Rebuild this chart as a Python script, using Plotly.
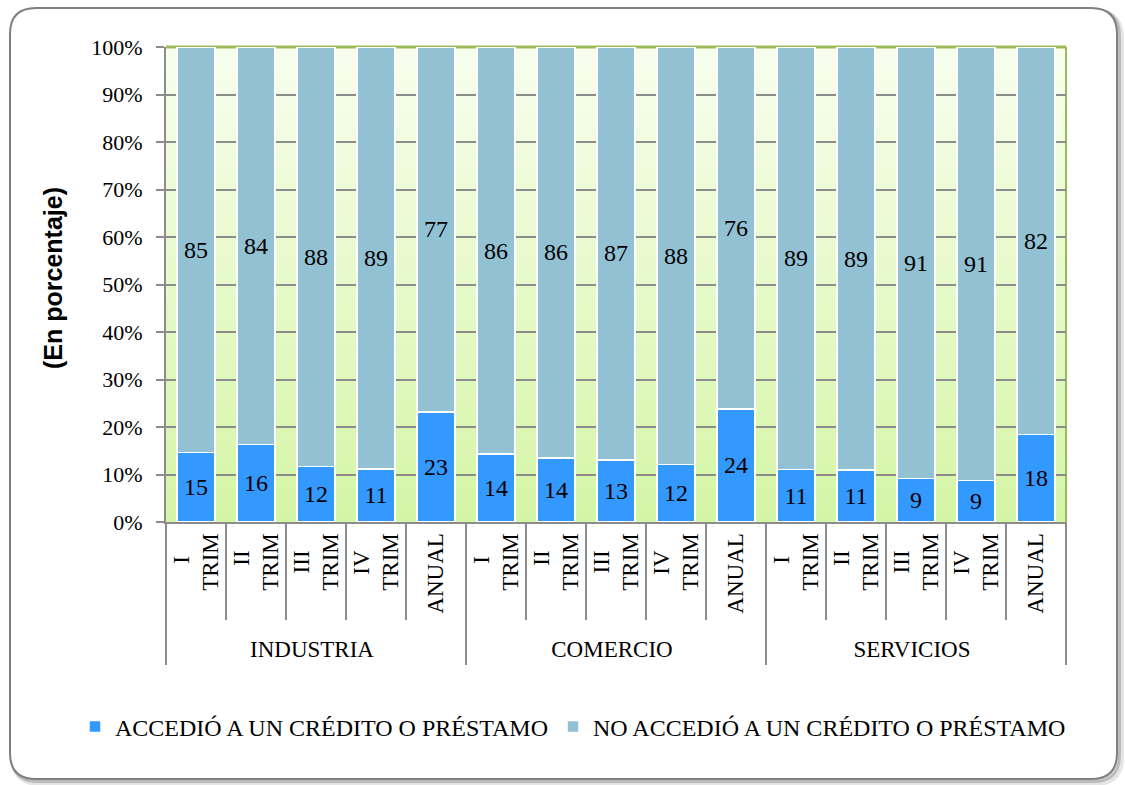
import plotly.graph_objects as go

groups = ["INDUSTRIA"] * 5 + ["COMERCIO"] * 5 + ["SERVICIOS"] * 5
periods = ["I&nbsp;&nbsp;&nbsp;&nbsp;<br>TRIM", "II&nbsp;&nbsp;&nbsp;<br>TRIM",
           "III&nbsp;&nbsp;&nbsp;<br>TRIM", "IV&nbsp;&nbsp;&nbsp;<br>TRIM", "ANUAL"] * 3
accedio = [14.6, 16.3, 11.7, 11.2, 23.2, 14.3, 13.5, 13.1, 12.1, 23.8, 11.1, 10.9, 9.2, 8.7, 18.4]
no_accedio = [100 - v for v in accedio]
acc_labels = [15, 16, 12, 11, 23, 14, 14, 13, 12, 24, 11, 11, 9, 9, 18]
no_labels = [85, 84, 88, 89, 77, 86, 86, 87, 88, 76, 89, 89, 91, 91, 82]
series_names = ["ACCEDIÓ A UN CRÉDITO O PRÉSTAMO", "NO ACCEDIÓ A UN CRÉDITO O PRÉSTAMO"]
series_colors = ["#3399FF", "#92C1D4"]

W, H = 1125, 785
L, R, T, B = 166, 1066, 47, 522
PW, PH = R - L, B - T
SERIF = "Liberation Serif, Times New Roman, serif"


def px(x):
    return (x - L) / PW


def py(y):
    return (B - y) / PH


fig = go.Figure()
fig.add_trace(go.Bar(
    x=[groups, periods], y=accedio, name=series_names[0],
    marker=dict(color=series_colors[0], line=dict(color="white", width=1.5)),
    text=acc_labels, textposition="inside", insidetextanchor="middle", textangle=0,
    textfont=dict(family=SERIF, size=24, color="black"),
))
fig.add_trace(go.Bar(
    x=[groups, periods], y=no_accedio, name=series_names[1],
    marker=dict(color=series_colors[1], line=dict(color="white", width=1.5)),
    text=no_labels, textposition="inside", insidetextanchor="middle", textangle=0,
    textfont=dict(family=SERIF, size=24, color="black"),
))

shapes = []


# outer rounded frame (drawn first so it sits at the back)
def rrect(x0, y0, x1, y1, r):
    a, b, c, d = px(x0), py(y0), px(x1), py(y1)
    rx, ry = r / PW, r / PH
    return (f"M {a+rx},{b} L {c-rx},{b} Q {c},{b} {c},{b-ry} L {c},{d+ry} "
            f"Q {c},{d} {c-rx},{d} L {a+rx},{d} Q {a},{d} {a},{d+ry} L {a},{b-ry} Q {a},{b} {a+rx},{b} Z")


for off, col, wd in [(4, "rgba(0,0,0,0.10)", 6), (2, "rgba(0,0,0,0.18)", 4)]:
    shapes.append(dict(type="path", xref="paper", yref="paper",
                       path=rrect(10 + off, 8 + off, 1117 + off, 779 + off, 26),
                       line=dict(color=col, width=wd), layer="below"))
shapes.append(dict(type="path", xref="paper", yref="paper",
                   path=rrect(10, 8, 1117, 779, 26),
                   line=dict(color="#7F7F7F", width=2), fillcolor="white", layer="below"))

# gradient background of plot area
top_c = (248, 254, 238)
bot_c = (213, 245, 166)
n = 60
for i in range(n):
    t = i / (n - 1)
    c = tuple(round(bot_c[k] + (top_c[k] - bot_c[k]) * t) for k in range(3))
    shapes.append(dict(type="rect", xref="paper", yref="paper", x0=0, x1=1,
                       y0=i / n, y1=min(1, (i + 1) / n + 0.002), fillcolor="rgb(%d,%d,%d)" % c,
                       line=dict(width=0), layer="below"))
# green top and right border
shapes.append(dict(type="line", xref="paper", yref="paper", x0=0, x1=1, y0=1, y1=1,
                   line=dict(color="#9BBB59", width=3), layer="below"))
shapes.append(dict(type="line", xref="paper", yref="paper", x0=1, x1=1, y0=0, y1=1,
                   line=dict(color="#9BBB59", width=2), layer="below"))
# category separators below the axis
ncat = len(periods)
for i in range(ncat + 1):
    long = (i % 5 == 0)
    shapes.append(dict(type="line", xref="paper", yref="paper", x0=i / ncat, x1=i / ncat,
                       y0=0, y1=py(665 if long else 620),
                       line=dict(color="#8C8C8C", width=2), layer="above"))

fig.update_layout(
    width=W, height=H, autosize=False,
    margin=dict(l=L, r=W - R, t=T, b=H - B),
    barmode="stack", bargap=0.37,
    paper_bgcolor="white", plot_bgcolor="rgba(0,0,0,0)",
    shapes=shapes,
    showlegend=True,
    legend=dict(orientation="h", x=px(75), xanchor="left",
                y=py(727), yanchor="middle",
                font=dict(family=SERIF, size=24, color="black"), traceorder="normal",
                itemwidth=30, tracegroupgap=0),
    font=dict(family=SERIF, size=22, color="black"),
    annotations=[dict(text="<b>(En porcentaje)</b>", xref="paper", yref="paper",
                      x=px(53), y=py(278), xanchor="center", yanchor="middle",
                      textangle=-90, showarrow=False,
                      font=dict(family="Liberation Sans, Arial, sans-serif", size=25, color="black"))],
)
fig.update_yaxes(range=[0, 100], dtick=10, ticksuffix="%", showgrid=True, gridcolor="#8C8C8C",
                 gridwidth=2, showline=True, linecolor="#8C8C8C", linewidth=2,
                 ticks="outside", ticklen=8, tickcolor="#8C8C8C", tickwidth=2,
                 ticklabelstandoff=9,
                 tickfont=dict(family=SERIF, size=22, color="black"), zeroline=False)
fig.update_xaxes(type="multicategory", showdividers=False, showline=True, linecolor="#8C8C8C",
                 linewidth=2, tickangle=-90, ticks="", showgrid=False,
                 tickfont=dict(family=SERIF, size=23, color="black"))

fig.write_html("out.html", config={"displayModeBar": False},
               post_script="document.body.style.margin='0';")
